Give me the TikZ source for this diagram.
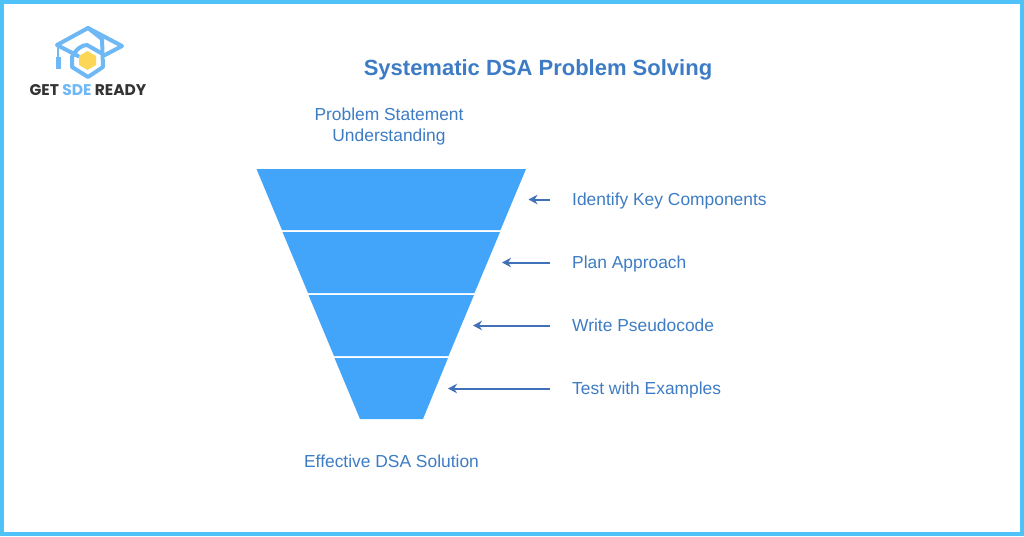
\documentclass[tikz,border=0pt]{standalone}
\usepackage{fontspec}
\setmainfont{Liberation Sans}
\newfontfamily\logofont{Poppins}
\usetikzlibrary{arrows.meta, positioning}
\definecolor{frameblue}{HTML}{4FC3F7}
\definecolor{funnelblue}{HTML}{42A5F9}
\definecolor{textblue}{HTML}{3D7CC4}
\definecolor{arrowblue}{HTML}{3F70B8}
\definecolor{logoblue}{HTML}{6DB8F5}
\definecolor{logoyellow}{HTML}{FCD757}
\definecolor{logodark}{HTML}{333333}

\begin{document}
\begin{tikzpicture}[
                x=1pt, y=-1pt,
                band/.style={fill=funnelblue, draw=none},
                label/.style={anchor=base west, text=textblue, font=\fontsize{17.4}{21}\selectfont, inner sep=0pt},
                caption/.style={align=center, text=textblue, font=\fontsize{17.4}{21}\selectfont, inner sep=0pt},
                pointer/.style={-{Stealth[length=9pt,width=9.5pt]}, draw=arrowblue, line width=2pt},
                logoline/.style={draw=logoblue, line width=4pt, line join=round, line cap=round}
            ]

            % Background and frame
            \useasboundingbox (0,0) rectangle (1024,536);
            \draw[frameblue, line width=4pt] (2,2) rectangle (1022,534);

            % Logo
            \draw[logoline] (78,56) -- (57,45) -- (88,28) -- (122,46) -- (105,55);
            \draw[logoline] (72,57) -- (72,67) -- (88,77) -- (103,67) -- (102,39) -- (88,28);
            \draw[logoline] (72,57) .. controls (76,49) and (82,45) .. (87,45) -- (101,53);
            \draw[logoline, line width=2pt] (58,46) -- (58,58);
            \fill[logoblue] (56,57) rectangle (61,69);
            \fill[logoyellow] (87.5,51) -- (96,56) -- (96,65) -- (87.5,70) -- (79,65) -- (79,56) -- cycle;
            \node[inner sep=0pt, text=logodark, font=\logofont\bfseries\fontsize{15.5}{18}\selectfont] (logo-text) at (88,90)
                {GET \textcolor{logoblue}{SDE} READY};

            % Title and captions
            \node[inner sep=0pt, text=textblue, font=\bfseries\fontsize{22}{26}\selectfont] (title) at (538,70) {Systematic DSA Problem Solving};
            \node[caption] (top-label) at (389,126.5) {Problem Statement\\Understanding};
            \node[caption] (bottom-label) at (391.5,461.5) {Effective DSA Solution};

            % Funnel bands
            \fill[band] (256.5,169) -- (526,169) -- (500.5,230) -- (282,230) -- cycle;
            \fill[band] (282.5,232) -- (500,232) -- (474.5,293) -- (308,293) -- cycle;
            \fill[band] (308.5,295) -- (474,295) -- (448.5,356) -- (334,356) -- cycle;
            \fill[band] (334.5,358) -- (448,358) -- (423,419) -- (360,419) -- cycle;

            % Step labels
            \node[label] (step-1) at (572,205.5) {Identify Key Components};
            \node[label] (step-2) at (572,268.5) {Plan Approach};
            \node[label] (step-3) at (572,331.5) {Write Pseudocode};
            \node[label] (step-4) at (572,394.5) {Test with Examples};

            % Arrow ends
            \coordinate (tip-1) at (528.5,199.5);
            \coordinate (tip-2) at (502,262.5);
            \coordinate (tip-3) at (473,325.5);
            \coordinate (tip-4) at (448,388.5);
            \coordinate (tail-1) at (550,199.5);
            \coordinate (tail-2) at (550,262.5);
            \coordinate (tail-3) at (550,325.5);
            \coordinate (tail-4) at (550,388.5);

            \foreach \i in {1,2,3,4}
            \draw[pointer] (tail-\i) -- (tip-\i);

        \end{tikzpicture}
\end{document}
